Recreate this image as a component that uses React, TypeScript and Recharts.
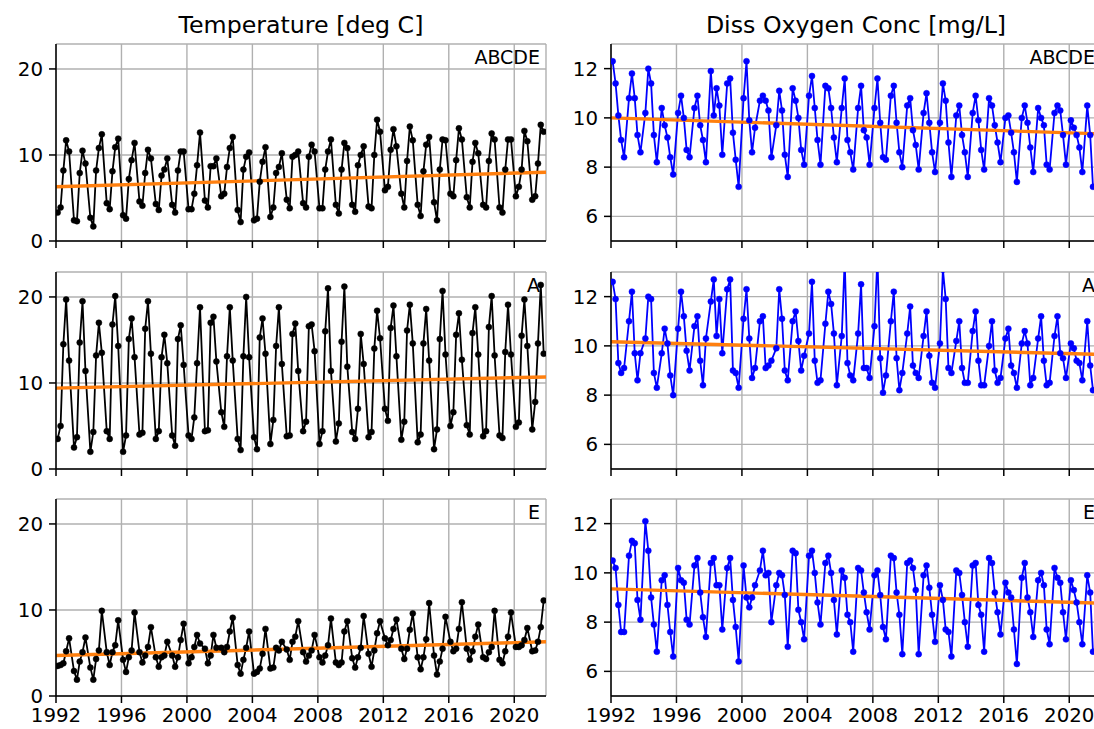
import React from 'react';
import { LineChart, Line, XAxis, YAxis, CartesianGrid } from 'recharts';

const FONT = '"DejaVu Sans", Verdana, sans-serif';

// ---------------- data ----------------
const years = [
  1992, 1993, 1994, 1995, 1996, 1997, 1998, 1999, 2000, 2001,
  2002, 2003, 2004, 2005, 2006, 2007, 2008, 2009, 2010, 2011,
  2012, 2013, 2014, 2015, 2016, 2017, 2018, 2019, 2020, 2021,
];
// fraction of the year at which each sample of a year was taken
const sampleOffsets = [0.1, 0.28, 0.45, 0.62, 0.8];

const xDomain = [1992, 2021.94];
const xTicks = [1992, 1996, 2000, 2004, 2008, 2012, 2016, 2020];
const tempDomain = [0, 22.9];
const tempTicks = [0, 10, 20];
const doDomain = [5, 13];
const doTicks = [6, 8, 10, 12];

const panelLabels = ['ABCDE', 'A', 'E'];
const titles = ['Temperature [deg C]', 'Diss Oxygen Conc [mg/L]'];

// Temperature, all stations (ABCDE)
const tempABCDE = [
  [3.3, 3.9, 8.2, 11.7, 10.4], [2.4, 2.3, 7.9, 10.5, 9.0], [2.7, 1.7, 8.2, 10.8, 12.4],
  [4.4, 3.7, 8.1, 10.9, 11.9], [3.0, 2.6, 7.2, 9.4, 11.4], [4.6, 4.1, 7.9, 10.6, 9.6],
  [4.3, 3.6, 7.6, 8.3, 9.6], [4.2, 3.3, 8.2, 10.4, 10.4], [3.7, 3.7, 5.5, 8.8, 12.6],
  [4.7, 3.9, 8.7, 8.7, 9.6], [5.2, 5.5, 8.6, 10.8, 12.1], [3.6, 2.2, 8.3, 9.8, 10.3],
  [2.4, 2.6, 6.9, 9.2, 10.9], [2.8, 3.9, 7.9, 8.6, 10.2], [4.8, 3.8, 9.8, 10.0, 10.4],
  [4.4, 3.9, 9.8, 11.2, 10.4], [3.8, 3.8, 8.3, 10.4, 11.8], [4.2, 3.2, 8.3, 11.4, 10.8],
  [4.2, 3.4, 8.8, 10.0, 11.0], [4.0, 3.8, 10.0, 14.1, 12.7], [5.9, 6.3, 10.6, 13.0, 11.0],
  [5.5, 3.9, 9.3, 13.3, 11.7], [4.2, 2.9, 8.1, 11.2, 12.1], [4.5, 2.4, 8.3, 11.8, 11.7],
  [5.5, 5.2, 9.4, 13.1, 11.8], [5.1, 3.9, 9.2, 11.4, 10.2], [4.2, 3.9, 9.3, 12.5, 11.8],
  [3.9, 3.3, 8.3, 11.8, 11.8], [5.2, 6.3, 8.3, 12.8, 11.6], [4.8, 5.2, 9.0, 13.5, 12.7],
];
// Temperature, station A
const tempA = [
  [3.5, 5.0, 14.5, 19.7, 12.6], [2.5, 3.7, 14.7, 19.5, 11.4], [2.0, 4.3, 13.2, 17.0, 13.5],
  [4.4, 3.5, 16.8, 20.1, 14.3], [2.0, 3.9, 15.1, 17.5, 13.0], [4.0, 4.2, 16.3, 19.5, 13.4],
  [3.5, 4.4, 13.0, 15.6, 12.3], [3.9, 2.7, 15.1, 16.7, 12.1], [3.9, 3.5, 6.0, 12.3, 18.8],
  [4.4, 4.5, 17.0, 17.7, 12.5], [6.6, 4.9, 13.1, 18.8, 12.6], [3.5, 2.2, 13.1, 20.0, 13.0],
  [3.7, 2.3, 15.3, 17.5, 13.4], [2.9, 5.7, 14.3, 18.8, 12.2], [3.8, 3.9, 15.7, 16.9, 11.4],
  [4.4, 5.5, 16.6, 16.8, 13.7], [2.9, 4.4, 16.0, 21.0, 11.4], [3.2, 5.3, 14.8, 21.2, 11.9],
  [4.3, 3.5, 7.0, 15.7, 12.2], [3.7, 4.3, 14.0, 18.4, 15.2], [7.0, 5.6, 16.4, 19.0, 13.1],
  [3.4, 5.5, 16.1, 19.1, 14.6], [3.1, 4.0, 14.6, 18.6, 12.6], [2.3, 4.6, 15.1, 20.7, 13.3],
  [5.0, 6.6, 15.6, 18.1, 12.7], [5.1, 4.0, 15.8, 18.8, 13.3], [3.8, 4.4, 16.5, 20.1, 13.2],
  [3.9, 3.6, 13.6, 19.1, 13.3], [4.9, 5.4, 15.5, 19.7, 14.3], [4.6, 7.8, 14.6, 21.4, 13.4],
];
// Temperature, station E
const tempE = [
  [3.5, 3.6, 3.8, 5.2, 6.7], [2.9, 1.9, 4.0, 5.1, 6.8], [3.3, 1.9, 4.3, 5.3, 9.9],
  [5.1, 3.6, 5.1, 5.9, 8.8], [4.2, 2.8, 4.5, 5.3, 9.7], [5.1, 3.9, 4.7, 5.7, 8.0],
  [4.5, 3.4, 4.5, 4.7, 6.3], [4.7, 3.4, 4.5, 6.5, 8.4], [3.8, 4.5, 5.7, 7.1, 6.1],
  [5.5, 3.8, 4.7, 7.1, 5.6], [5.6, 5.1, 5.7, 7.5, 9.1], [3.6, 2.6, 4.2, 5.6, 7.5],
  [2.6, 2.8, 3.2, 4.9, 7.8], [3.2, 3.3, 5.6, 5.3, 6.3], [5.4, 4.2, 6.3, 6.9, 8.7],
  [5.1, 4.0, 4.7, 5.3, 7.1], [4.5, 3.9, 4.7, 5.9, 9.0], [3.9, 3.6, 3.9, 7.5, 8.7],
  [4.4, 3.3, 4.5, 5.6, 9.3], [4.9, 3.4, 5.3, 7.3, 8.7], [6.7, 5.9, 6.5, 7.8, 8.9],
  [5.5, 4.3, 5.5, 7.7, 9.6], [4.5, 3.1, 4.5, 6.6, 10.8], [4.7, 2.5, 4.0, 5.5, 9.2],
  [6.3, 5.2, 5.5, 7.8, 10.9], [5.5, 4.2, 5.2, 6.9, 8.3], [4.5, 4.3, 5.1, 5.7, 9.9],
  [4.2, 3.8, 5.2, 6.9, 9.7], [5.7, 5.7, 5.9, 6.5, 7.9], [5.2, 5.3, 6.3, 8.0, 11.1],
];
// Dissolved oxygen, all stations (ABCDE)
const doABCDE = [
  [12.3, 11.4, 10.1, 9.1, 8.4], [10.8, 11.8, 10.8, 9.3, 8.6], [10.2, 12.0, 11.4, 9.3, 8.2],
  [10.4, 9.7, 9.2, 8.4, 7.7], [10.2, 10.9, 10.0, 8.7, 8.4], [10.4, 10.9, 9.7, 9.1, 8.2],
  [11.9, 10.1, 11.2, 10.5, 8.5], [11.4, 11.6, 9.4, 8.3, 7.2], [10.8, 12.3, 9.9, 8.6, 9.6],
  [10.7, 10.9, 10.7, 10.3, 8.4], [9.7, 11.1, 10.3, 8.5, 7.6], [11.2, 10.7, 10.0, 8.7, 8.1],
  [10.9, 11.7, 10.4, 9.1, 8.1], [11.3, 11.2, 10.4, 9.2, 8.2], [10.4, 11.6, 9.1, 8.6, 7.9],
  [10.4, 11.3, 9.5, 9.2, 8.1], [10.4, 11.6, 9.8, 8.4, 8.3], [10.9, 11.3, 9.8, 8.6, 8.0],
  [10.5, 10.8, 9.5, 8.9, 7.9], [10.2, 11.0, 9.8, 8.6, 7.8], [9.8, 11.4, 10.7, 9.0, 7.6],
  [10.1, 10.5, 9.3, 8.6, 7.6], [10.2, 10.9, 9.9, 8.7, 7.9], [10.8, 10.5, 9.7, 9.0, 8.2],
  [10.0, 10.1, 9.4, 8.6, 7.4], [10.0, 10.5, 9.8, 8.8, 7.8], [10.4, 10.0, 9.7, 8.1, 7.9],
  [10.2, 10.5, 10.3, 9.3, 8.1], [9.9, 9.6, 9.3, 8.8, 7.8], [10.5, 9.3, 7.2],
];
// Dissolved oxygen, station A
const doA = [
  [12.6, 11.9, 9.3, 8.9, 9.1], [11.0, 12.2, 9.7, 8.6, 9.7], [10.3, 12.0, 11.9, 8.9, 8.3],
  [9.7, 10.7, 10.1, 8.8, 8.0], [10.7, 12.2, 11.2, 9.8, 9.0], [10.8, 11.2, 9.4, 8.4, 10.3],
  [11.8, 12.7, 10.4, 11.9, 9.7], [12.3, 12.7, 9.0, 8.9, 8.3], [11.1, 12.3, 10.3, 8.7, 9.1],
  [11.0, 11.2, 9.1, 9.2, 9.4], [9.9, 12.3, 11.1, 9.0, 8.6], [11.0, 11.4, 10.2, 9.0, 9.6],
  [10.5, 12.6, 9.4, 8.5, 8.6], [10.9, 12.2, 11.7, 10.5, 8.4], [10.4, 13.5, 9.3, 8.8, 8.6],
  [10.5, 12.5, 9.1, 9.1, 8.7], [10.8, 13.6, 9.5, 8.1, 8.8], [11.0, 12.2, 9.5, 8.2, 8.9],
  [10.5, 11.6, 9.2, 8.9, 8.7], [10.4, 11.4, 9.6, 8.5, 8.3], [10.1, 13.1, 11.9, 9.1, 8.9],
  [10.2, 11.0, 9.1, 8.5, 8.5], [10.6, 11.4, 9.4, 8.4, 8.4], [10.0, 11.0, 9.0, 8.5, 8.7],
  [10.3, 10.7, 9.2, 8.9, 8.3], [10.1, 10.6, 10.1, 8.4, 8.7], [10.3, 11.2, 9.4, 8.4, 8.5],
  [10.4, 11.2, 9.7, 9.5, 8.7], [10.1, 9.9, 9.4, 9.3, 8.6], [11.0, 9.2, 8.2],
];
// Dissolved oxygen, station E
const doE = [
  [10.5, 10.2, 8.7, 7.6, 7.6], [10.7, 11.3, 11.2, 8.9, 8.1], [12.1, 10.9, 9.0, 7.9, 6.8],
  [9.7, 9.9, 8.7, 7.6, 6.6], [10.2, 9.7, 9.6, 8.1, 7.9], [10.3, 10.6, 9.2, 8.2, 7.4],
  [10.4, 10.6, 9.5, 9.5, 7.7], [10.2, 10.6, 8.9, 7.8, 6.4], [10.3, 9.0, 8.6, 9.0, 9.5],
  [10.1, 10.9, 9.9, 10.0, 8.0], [9.5, 10.0, 9.9, 9.1, 7.0], [10.9, 10.8, 8.5, 8.0, 7.3],
  [10.7, 10.9, 10.0, 8.8, 7.9], [10.4, 10.7, 10.0, 8.9, 7.5], [10.1, 9.8, 8.3, 8.0, 6.8],
  [10.2, 10.1, 9.2, 8.4, 7.7], [9.9, 10.1, 9.1, 7.8, 7.3], [10.7, 10.6, 9.2, 8.3, 6.7],
  [10.4, 10.5, 10.2, 9.3, 6.7], [9.9, 10.3, 9.4, 8.3, 7.2], [9.5, 8.9, 7.7, 7.6, 6.6],
  [10.1, 10.0, 9.1, 8.0, 7.0], [10.3, 10.4, 8.7, 8.3, 6.8], [10.6, 10.4, 9.2, 8.4, 7.5],
  [9.6, 9.2, 9.0, 7.7, 6.3], [9.8, 10.4, 9.0, 8.4, 7.4], [9.7, 10.0, 9.5, 7.7, 7.1],
  [10.2, 9.8, 9.6, 8.4, 7.3], [9.7, 9.3, 8.8, 8.0, 7.1], [9.9, 9.2, 6.8],
];

// linear trend: value at start and end of the x range
const trendTempABCDE = [6.3, 8.0];
const trendTempA = [9.4, 10.7];
const trendTempE = [4.7, 6.3];
const trendDoABCDE = [10.0, 9.35];
const trendDoA = [10.17, 9.65];
const trendDoE = [9.35, 8.77];

// ---------------- layout ----------------
const PLOT_W = 490;
const PLOT_H = 197;
const Y_AXIS_W = 50;
const M_LEFT = 6;
const M_TOP = 10;
const M_RIGHT = 14;
const X_AXIS_H = 34;
const CHART_W = M_LEFT + Y_AXIS_W + PLOT_W + M_RIGHT;
const CHART_H = M_TOP + PLOT_H + X_AXIS_H;
const COL_X = [56, 611];
const ROW_Y = [44, 271.5, 499];

type Pt = { t: number; v: number };

function buildSeries(rows: number[][]): Pt[] {
  const out: Pt[] = [];
  rows.forEach((row, i) =>
    row.forEach((v, j) => out.push({ t: years[i] + sampleOffsets[j], v }))
  );
  return out;
}

function buildTrend(ends: number[]): Pt[] {
  return [
    { t: xDomain[0], v: ends[0] },
    { t: xDomain[1], v: ends[1] },
  ];
}

type PanelProps = {
  x: number;
  y: number;
  rows: number[][];
  trend: number[];
  color: string;
  yDomain: number[];
  yTicks: number[];
  showXLabels: boolean;
};

const tickStyle = { fontSize: 19.8, fill: '#000', fontFamily: FONT };

function Panel({ x, y, rows, trend, color, yDomain, yTicks, showXLabels }: PanelProps) {
  const data = buildSeries(rows);
  const trendData = buildTrend(trend);
  return (
    <div style={{ position: 'absolute', left: x - M_LEFT - Y_AXIS_W, top: y - M_TOP }}>
      <LineChart
        width={CHART_W}
        height={CHART_H}
        margin={{ top: M_TOP, right: M_RIGHT, bottom: 0, left: M_LEFT }}
      >
        <CartesianGrid stroke="#b0b0b0" strokeWidth={1.4} />
        <XAxis
          dataKey="t"
          type="number"
          domain={xDomain}
          ticks={xTicks}
          interval={0}
          allowDataOverflow
          height={X_AXIS_H}
          tickSize={7}
          tickMargin={5}
          axisLine={{ stroke: '#000', strokeWidth: 1.5 }}
          tickLine={{ stroke: '#000', strokeWidth: 1.5 }}
          tick={tickStyle}
          tickFormatter={(v: number) => (showXLabels ? String(v) : '')}
        />
        <XAxis
          xAxisId="top"
          orientation="top"
          type="number"
          domain={xDomain}
          allowDataOverflow
          height={0}
          tick={false}
          tickLine={false}
          axisLine={{ stroke: '#000', strokeWidth: 1.5 }}
        />
        <YAxis
          type="number"
          domain={yDomain}
          ticks={yTicks}
          interval={0}
          allowDataOverflow
          width={Y_AXIS_W}
          tickSize={7}
          tickMargin={6}
          axisLine={{ stroke: '#000', strokeWidth: 1.5 }}
          tickLine={{ stroke: '#000', strokeWidth: 1.5 }}
          tick={tickStyle}
        />
        <YAxis
          yAxisId="right"
          orientation="right"
          type="number"
          domain={yDomain}
          allowDataOverflow
          width={0}
          tick={false}
          tickLine={false}
          axisLine={{ stroke: '#000', strokeWidth: 1.5 }}
        />
        <Line
          data={data}
          dataKey="v"
          type="linear"
          stroke={color}
          strokeWidth={1.8}
          dot={{ r: 3, fill: color, stroke: color, strokeWidth: 0.5 }}
          activeDot={false}
          isAnimationActive={false}
        />
        <Line
          data={trendData}
          dataKey="v"
          type="linear"
          stroke="#ff7f0e"
          strokeWidth={3.4}
          dot={false}
          activeDot={false}
          isAnimationActive={false}
        />
      </LineChart>
    </div>
  );
}

export default function App() {
  const tempRows = [tempABCDE, tempA, tempE];
  const tempTrends = [trendTempABCDE, trendTempA, trendTempE];
  const doRows = [doABCDE, doA, doE];
  const doTrends = [trendDoABCDE, trendDoA, trendDoE];
  return (
    <div
      style={{
        position: 'absolute',
        left: 0,
        top: 0,
        width: 1094,
        height: 729,
        overflow: 'hidden',
        background: '#fff',
        fontFamily: FONT,
      }}
    >
      {ROW_Y.map((ry, i) => (
        <Panel
          key={'t' + i}
          x={COL_X[0]}
          y={ry}
          rows={tempRows[i]}
          trend={tempTrends[i]}
          color="#000000"
          yDomain={tempDomain}
          yTicks={tempTicks}
          showXLabels={i === 2}
        />
      ))}
      {ROW_Y.map((ry, i) => (
        <Panel
          key={'d' + i}
          x={COL_X[1]}
          y={ry}
          rows={doRows[i]}
          trend={doTrends[i]}
          color="#0000ff"
          yDomain={doDomain}
          yTicks={doTicks}
          showXLabels={i === 2}
        />
      ))}
      <svg
        width={1094}
        height={729}
        style={{ position: 'absolute', left: 0, top: 0, pointerEvents: 'none' }}
      >
        {titles.map((t, c) => (
          <text
            key={t}
            x={COL_X[c] + PLOT_W / 2}
            y={33}
            textAnchor="middle"
            fontFamily={FONT}
            fontSize={23.7}
            fill="#000"
          >
            {t}
          </text>
        ))}
        {COL_X.map((cx) =>
          ROW_Y.map((ry, i) => (
            <text
              key={cx + '-' + i}
              x={cx + PLOT_W - 6}
              y={ry + 20}
              textAnchor="end"
              fontFamily={FONT}
              fontSize={19}
              fill="#000"
            >
              {panelLabels[i]}
            </text>
          ))
        )}
      </svg>
    </div>
  );
}
